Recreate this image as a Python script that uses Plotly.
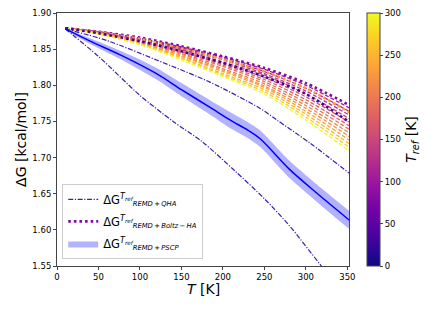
import plotly.graph_objects as go
from plotly.colors import sample_colorscale

# ---------------- data ----------------
# family grid (T in K)
t_fam = [10, 50, 100, 150, 200, 250, 300, 355]

# Boltz-HA dotted curves (T_ref, values)
boltz_tref = [80, 230, 30]
boltz_vals = [
    [1.879, 1.874, 1.866, 1.854, 1.840, 1.824, 1.803, 1.771],
    [1.879, 1.873, 1.864, 1.851, 1.836, 1.819, 1.796, 1.761],
    [1.879, 1.872, 1.861, 1.847, 1.831, 1.812, 1.788, 1.747],
]

# dashed reference-temperature family
dash_tref = [100, 115, 130, 145, 160, 175, 190, 205, 220, 235, 250, 270, 300]
dash_vals = [
    [1.879, 1.874, 1.865, 1.853, 1.839, 1.822, 1.800, 1.767],
    [1.879, 1.874, 1.864, 1.852, 1.837, 1.819, 1.796, 1.762],
    [1.879, 1.873, 1.864, 1.850, 1.835, 1.816, 1.792, 1.757],
    [1.879, 1.873, 1.863, 1.849, 1.832, 1.814, 1.788, 1.752],
    [1.879, 1.873, 1.862, 1.847, 1.830, 1.811, 1.784, 1.747],
    [1.879, 1.873, 1.861, 1.846, 1.828, 1.808, 1.780, 1.742],
    [1.879, 1.873, 1.861, 1.844, 1.826, 1.805, 1.776, 1.737],
    [1.879, 1.872, 1.860, 1.843, 1.823, 1.802, 1.772, 1.732],
    [1.879, 1.872, 1.859, 1.841, 1.821, 1.799, 1.768, 1.727],
    [1.879, 1.872, 1.858, 1.840, 1.819, 1.797, 1.764, 1.722],
    [1.879, 1.872, 1.857, 1.838, 1.816, 1.794, 1.760, 1.717],
    [1.879, 1.871, 1.857, 1.837, 1.814, 1.791, 1.756, 1.712],
    [1.879, 1.871, 1.856, 1.835, 1.812, 1.788, 1.752, 1.707],
]

# QHA dash-dot curves
qha_up_t = [10, 60, 120, 185, 245, 265, 305, 355]
qha_up_v = [1.878, 1.862, 1.835, 1.804, 1.768, 1.752, 1.720, 1.676]
qha_lo_t = [10, 50, 100, 140, 175, 215, 250, 280, 318, 355]
qha_lo_v = [1.878, 1.840, 1.786, 1.750, 1.722, 1.681, 1.643, 1.606, 1.551, 1.499]

# PSCP curve and uncertainty
pscp_t = [10, 40, 80, 120, 150, 185, 210, 230, 245, 280, 313, 355]
pscp_v = [1.878, 1.861, 1.840, 1.816, 1.794, 1.769, 1.751, 1.738, 1.726, 1.684, 1.651, 1.611]
pscp_err = [0.001, 0.004, 0.006, 0.008, 0.009, 0.010, 0.011, 0.011, 0.0115, 0.012, 0.012, 0.0125]

x_ticks = [0, 50, 100, 150, 200, 250, 300, 350]
y_ticks = [1.55, 1.60, 1.65, 1.70, 1.75, 1.80, 1.85, 1.90]
cb_ticks = [0, 50, 100, 150, 200, 250, 300]

# ---------------- figure ----------------
def plasma(v):
    return sample_colorscale("Plasma", [v / 300.0])[0]

FONT = "DejaVu Sans"
QHA_COLOR = "#3d1fae"
SPL = dict(shape="spline", smoothing=0.8)


def dg_label(method):
    return ("ΔG<sup><i>T<sub>ref</sub></i></sup>"
            "<sub><i><span style='font-size:6.8px'>" + method + "</span></i></sub>")


fig = go.Figure()

for tr, vals in zip(dash_tref, dash_vals):
    fig.add_trace(go.Scatter(x=t_fam, y=vals, mode="lines", showlegend=False,
                             line=dict(color=plasma(tr), width=1.3, dash="4px,2px", **SPL),
                             hoverinfo="skip"))

for i, (tr, vals) in enumerate(zip(boltz_tref, boltz_vals)):
    fig.add_trace(go.Scatter(
        x=t_fam, y=vals, mode="lines",
        showlegend=(i == 0), legendrank=2, legendgroup="boltz",
        name=dg_label("REMD\u2009+\u2009Boltz\u2009−\u2009HA"),
        line=dict(color=plasma(tr), width=2.6, dash="2.6px,3px", **SPL)))

fig.add_trace(go.Scatter(
    x=qha_up_t, y=qha_up_v, mode="lines", legendrank=1, legendgroup="qha",
    name=dg_label("REMD\u2009+\u2009QHA"),
    line=dict(color=QHA_COLOR, width=1.2, dash="5px,1.6px,1.2px,1.6px", **SPL)))
fig.add_trace(go.Scatter(
    x=qha_lo_t, y=qha_lo_v, mode="lines", showlegend=False, legendgroup="qha",
    line=dict(color=QHA_COLOR, width=1.2, dash="5px,1.6px,1.2px,1.6px", **SPL)))

lower = [v - e for v, e in zip(pscp_v, pscp_err)]
upper = [v + e for v, e in zip(pscp_v, pscp_err)]
fig.add_trace(go.Scatter(x=pscp_t, y=lower, mode="lines", showlegend=False, legendgroup="pscp",
                         line=dict(width=0, color="rgba(0,0,255,0)", **SPL), hoverinfo="skip"))
fig.add_trace(go.Scatter(
    x=pscp_t, y=upper, mode="lines", fill="tonexty", legendrank=3, legendgroup="pscp",
    fillcolor="rgba(0,0,255,0.3)", line=dict(width=0, color="rgba(0,0,255,0)", **SPL),
    name=dg_label("REMD\u2009+\u2009PSCP")))
fig.add_trace(go.Scatter(x=pscp_t, y=pscp_v, mode="lines", showlegend=False, legendgroup="pscp",
                         line=dict(color="#0000ff", width=1.5, **SPL)))

# colorbar holder
fig.add_trace(go.Scatter(
    x=[None], y=[None], mode="markers", showlegend=False,
    marker=dict(colorscale="Plasma", cmin=0, cmax=300, color=[0], showscale=True,
                colorbar=dict(
                    thickness=13, len=253, lenmode="pixels", ypad=0, xpad=0,
                    x=1.0616, xanchor="left", y=0.5, yanchor="middle",
                    outlinewidth=1, outlinecolor="#444",
                    ticks="outside", ticklen=3, tickcolor="#444",
                    tickvals=cb_ticks, tickfont=dict(size=8.5, color="black", family=FONT),
                    title=dict(text="<i>T<sub>ref</sub></i> [K]", side="right",
                               font=dict(size=14, color="black", family=FONT)),
                ))))

fig.update_layout(
    width=436, height=312,
    margin=dict(l=57, r=87, t=13, b=46, autoexpand=False),
    paper_bgcolor="white", plot_bgcolor="white",
    font=dict(family=FONT, color="black"),
    legend=dict(x=0.018, y=0.028, xanchor="left", yanchor="bottom",
                traceorder="grouped",
                bgcolor="rgba(255,255,255,0.85)", bordercolor="#cccccc", borderwidth=1,
                font=dict(size=11.5, family=FONT), itemwidth=30,
                tracegroupgap=3),
    annotations=[dict(text="<i>T</i> [K]", x=0.5, y=-0.092, xref="paper", yref="paper",
                      xanchor="center", yanchor="middle", showarrow=False,
                      font=dict(size=14, family=FONT, color="black"))],
)
fig.update_xaxes(range=[0, 352], tickvals=x_ticks, ticks="outside", ticklen=3,
                 tickfont=dict(size=8.5), showline=True, linecolor="#444", linewidth=1,
                 mirror=True, showgrid=False, zeroline=False, automargin=False)
fig.update_yaxes(range=[1.55, 1.90], tickvals=y_ticks, tickformat=".2f", ticks="outside",
                 ticklen=3, tickfont=dict(size=8.5), showline=True, linecolor="#444",
                 linewidth=1, mirror=True, showgrid=False, zeroline=False, automargin=False,
                 title=dict(text="ΔG [kcal/mol]", font=dict(size=14), standoff=2))

fig.write_html("out.html", config={"displayModeBar": False},
               post_script="document.body.style.margin='0';document.body.style.padding='0';")
